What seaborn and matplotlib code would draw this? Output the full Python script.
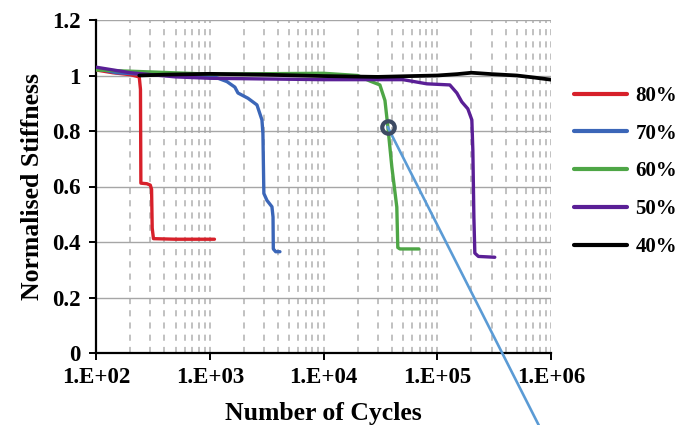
import numpy as np
import pandas as pd
import matplotlib
matplotlib.use("Agg")
import matplotlib.pyplot as plt
import seaborn as sns
from matplotlib.ticker import LogLocator, FixedLocator, FuncFormatter

# ---- data ----
labels = ["80%", "70%", "60%", "50%", "40%"]
colors = ["#d7202a", "#3b66b8", "#4ea646", "#5a1f96", "#000000"]

red_x = [100, 140, 200, 240, 246, 248, 280, 300, 308, 312, 320, 500, 1100]
red_y = [1.02, 1.01, 1.003, 0.995, 0.95, 0.612, 0.61, 0.605, 0.59, 0.45, 0.412, 0.41, 0.41]

blue_x = [100, 150, 300, 700, 1067, 1416, 1663, 1770, 2167, 2600, 2876, 2934, 2990, 3183, 3522, 3600, 3620, 3800, 4140]
blue_y = [1.025, 1.01, 1.003, 1.0, 0.997, 0.978, 0.958, 0.937, 0.918, 0.894, 0.84, 0.79, 0.575, 0.55, 0.527, 0.49, 0.375, 0.365, 0.365]

green_x = [100, 1000, 10000, 20000, 25600, 31300, 34700, 36800, 39900, 44100, 45000, 47000, 69000]
green_y = [1.02, 1.005, 1.008, 1.0, 0.98, 0.966, 0.91, 0.815, 0.67, 0.526, 0.38, 0.375, 0.375]

purple_x = [100, 200, 500, 1000, 10000, 50000, 81100, 129000, 148700, 164400, 185700, 201400, 205600, 209900, 214000, 230000, 320500]
purple_y = [1.03, 1.01, 0.995, 0.99, 0.985, 0.985, 0.97, 0.966, 0.937, 0.905, 0.88, 0.84, 0.73, 0.49, 0.36, 0.348, 0.345]

black_x = [240, 400, 1000, 3000, 10000, 30000, 60000, 100000, 150000, 200000, 300000, 500000, 700000, 1000000]
black_y = [1.0, 1.003, 1.006, 1.003, 0.998, 0.995, 0.998, 1.0, 1.005, 1.01, 1.005, 1.0, 0.993, 0.985]

series_x = [red_x, blue_x, green_x, purple_x, black_x]
series_y = [red_y, blue_y, green_y, purple_y, black_y]

x_ticks = [1e2, 1e3, 1e4, 1e5, 1e6]
x_ticklabels = ["1.E+02", "1.E+03", "1.E+04", "1.E+05", "1.E+06"]
y_ticks = [0, 0.2, 0.4, 0.6, 0.8, 1.0, 1.2]
y_ticklabels = ["0", "0.2", "0.4", "0.6", "0.8", "1", "1.2"]

marker_x = [3.66e4]
marker_y = [0.815]
pointer_x = [3.66e4, 7.8e5]
pointer_y = [0.815, -0.26]

# ---- plot ----
sns.set_theme(style="white")
plt.rcParams["font.family"] = ["Liberation Serif", "DejaVu Serif"]
plt.rcParams["font.weight"] = "bold"
for k in ["text.color", "axes.labelcolor", "xtick.color", "ytick.color"]:
    plt.rcParams[k] = "black"

fig = plt.figure(figsize=(6.8, 4.25), dpi=100)
ax = fig.add_axes([96 / 680, 1 - 353 / 425, (551 - 96) / 680, (353 - 20) / 425])

frames = []
for lab, xs, ys in zip(labels, series_x, series_y):
    frames.append(pd.DataFrame({"cycles": xs, "stiffness": ys, "load": lab}))
df = pd.concat(frames, ignore_index=True)

for lab, col in zip(labels, colors):
    sub = df[df["load"] == lab]
    sns.lineplot(data=sub, x="cycles", y="stiffness", ax=ax, color=col,
                 lw=2.7 if lab == "40%" else 2.4, estimator=None, sort=False,
                 label=lab, zorder=3 if lab != "40%" else 4)

ax.set_xscale("log")
ax.set_xlim(1e2, 1e6)
ax.set_ylim(0, 1.2)

# grid
ax.yaxis.set_major_locator(FixedLocator(y_ticks))
ax.set_yticklabels(y_ticklabels)
ax.xaxis.set_major_locator(FixedLocator(x_ticks))
ax.set_xticklabels(x_ticklabels)
ax.xaxis.set_minor_locator(LogLocator(base=10, subs=np.arange(2, 10), numticks=20))
ax.xaxis.set_minor_formatter(FuncFormatter(lambda v, p: ""))
ax.grid(axis="y", which="major", color="#a6a6a6", lw=1.0, ls="-", zorder=0)
ax.grid(axis="x", which="both", color="#b0b0b0", lw=1.1, ls=(0, (4, 4)), zorder=0)
ax.set_axisbelow(True)

for s in ["top", "right"]:
    ax.spines[s].set_visible(False)
for s in ["left", "bottom"]:
    ax.spines[s].set_color("black")
    ax.spines[s].set_linewidth(1.6)

ax.tick_params(axis="both", which="major", direction="out", length=5, width=1.4,
               color="black", labelcolor="black", labelsize=16.5, bottom=True, left=True)
ax.tick_params(axis="x", which="major", pad=5)
ax.tick_params(axis="y", which="major", pad=6)
ax.tick_params(axis="x", which="minor", length=0)
for t in ax.get_xticklabels() + ax.get_yticklabels():
    t.set_fontweight("bold")

ax.set_xlabel("Number of Cycles", fontsize=18.5, fontweight="bold", labelpad=10, color="black")
ax.set_ylabel("Normalised Stiffness", fontsize=18.5, fontweight="bold", labelpad=6, color="black")

# annotation pointer
ax.plot(pointer_x, pointer_y, color="#5b9bd5", lw=1.9, clip_on=False, zorder=5)
ax.plot(marker_x, marker_y, marker="o", ms=9, mew=3, mfc="none",
        mec="#3d4a63", ls="none", zorder=6, clip_on=False)

leg = ax.legend(loc="upper left", bbox_to_anchor=(574 / 680, 1 - 86 / 425),
                bbox_transform=fig.transFigure, frameon=False,
                prop={"family": "Liberation Serif", "weight": "bold", "size": 15},
                handlelength=2.55, handletextpad=0.4, labelspacing=0.85,
                borderpad=0, borderaxespad=0)
for lh in leg.get_lines():
    lh.set_linewidth(3)
for t in leg.get_texts():
    t.set_color("black")

fig.savefig("out.png", dpi=100)
